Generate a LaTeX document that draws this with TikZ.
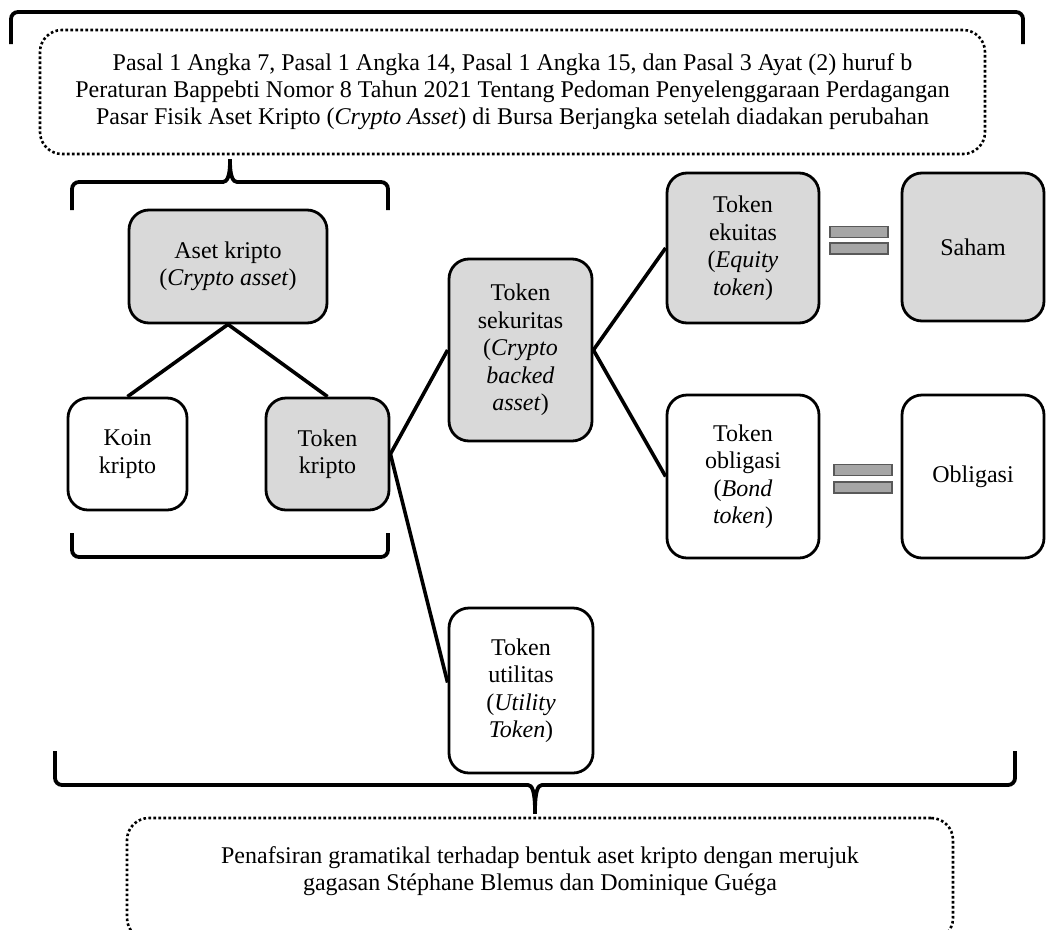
\documentclass[tikz,border=0pt]{standalone}
\usepackage{fontspec}
\setmainfont{Liberation Serif}
\definecolor{boxgray}{HTML}{D9D9D9}
\definecolor{eqfill}{HTML}{A6A6A6}
\definecolor{eqdraw}{HTML}{595959}
\begin{document}
\begin{tikzpicture}[x=1pt,y=-1pt,
  txt/.style={inner sep=0pt, align=center, font=\fontsize{24}{27.5}\selectfont},
  plainbox/.style={txt, draw=black, line width=2.8pt, rounded corners=20pt, rectangle},
  greybox/.style={plainbox, fill=boxgray},
  dotbox/.style={txt, draw=black, line width=2.6pt, dash pattern=on 2.6pt off 2.4pt, rounded corners=22pt, rectangle},
  conn/.style={draw=black, line width=3.6pt},
  brace/.style={draw=black, line width=3.8pt, rounded corners=7pt},
  eqbar/.style={draw=eqdraw, fill=eqfill, line width=1.8pt, rectangle, inner sep=0pt, minimum width=58pt, minimum height=11pt}
]
\useasboundingbox (0,0) rectangle (1046,929);

% top brace
\draw[brace] (11,44) -- (11,12) -- (1023,12) -- (1023,44);

% top dotted box
\node[dotbox, minimum width=945pt, minimum height=124pt] (top) at (512.5,92) {};
\node[txt, font=\fontsize{24}{27}\selectfont] (toptxt) at (512.5,92) {Pasal 1 Angka 7, Pasal 1 Angka 14, Pasal 1 Angka 15, dan Pasal 3 Ayat (2) huruf b\\
Peraturan Bappebti Nomor 8 Tahun 2021 Tentang Pedoman Penyelenggaraan Perdagangan\\
Pasar Fisik Aset Kripto (\textit{Crypto Asset}) di Bursa Berjangka setelah diadakan perubahan};

% brace under top box
\coordinate (b2tip) at (230,155);
\draw[brace] (72,210) -- (72,182) -- (216,182) .. controls (227,182) and (230,176) .. (b2tip) .. controls (230,176) and (233,182) .. (244,182) -- (388,182) -- (388,210);

% nodes
\node[greybox, minimum width=198pt, minimum height=113pt] (aset) at (228,266.5) {Aset kripto\\(\textit{Crypto asset})};
\node[plainbox, minimum width=119pt, minimum height=112pt] (koin) at (127.5,454) {Koin\\kripto};
\node[greybox, minimum width=123pt, minimum height=112pt] (tokenk) at (327.5,454) {Token\\kripto};
\node[greybox, minimum width=143pt, minimum height=182pt] (sek) at (520.5,350) {Token\\sekuritas\\(\textit{Crypto}\\\textit{backed}\\\textit{asset})};
\node[greybox, minimum width=152pt, minimum height=150pt] (ekui) at (743,248) {Token\\ekuitas\\(\textit{Equity}\\\textit{token})};
\node[plainbox, minimum width=152pt, minimum height=163pt] (oblt) at (743,476.5) {Token\\obligasi\\(\textit{Bond}\\\textit{token})};
\node[greybox, minimum width=142pt, minimum height=148pt] (saham) at (973,247) {Saham};
\node[plainbox, minimum width=142pt, minimum height=163pt] (oblig) at (973,476.5) {Obligasi};
\node[plainbox, minimum width=144pt, minimum height=165pt] (util) at (521,690.5) {Token\\utilitas\\(\textit{Utility}\\\textit{Token})};

% lower left bracket
\draw[brace] (72,533) -- (72,557) -- (388,557) -- (388,533);

% connectors
\draw[conn] (aset.south) -- (koin.north);
\draw[conn] (aset.south) -- (tokenk.north);
\draw[conn] (tokenk.east) -- (sek.west);
\draw[conn] (tokenk.east) -- ([yshift=8pt]util.west);
\draw[conn] (sek.east) -- (ekui.west);
\draw[conn] (sek.east) -- (oblt.west);

% equal signs
\node[eqbar] (eq1a) at (859,232) {};
\node[eqbar] (eq1b) at (859,248.5) {};
\node[eqbar] (eq2a) at (863,470) {};
\node[eqbar] (eq2b) at (863,487.5) {};

% bottom brace
\coordinate (b4tip) at (535,818);
\draw[brace] (55,751) -- (55,785) -- (521,785) .. controls (532,785) and (535,791) .. (b4tip) .. controls (535,791) and (538,785) .. (549,785) -- (1015,785) -- (1015,751);

% bottom dotted box
\node[dotbox, minimum width=826pt, minimum height=122pt] (bot) at (540,879) {};
\node[txt, font=\fontsize{24}{26.5}\selectfont] (bottxt) at (540,871) {Penafsiran gramatikal terhadap bentuk aset kripto dengan merujuk\\gagasan Stéphane Blemus dan Dominique Guéga};
\end{tikzpicture}
\end{document}
